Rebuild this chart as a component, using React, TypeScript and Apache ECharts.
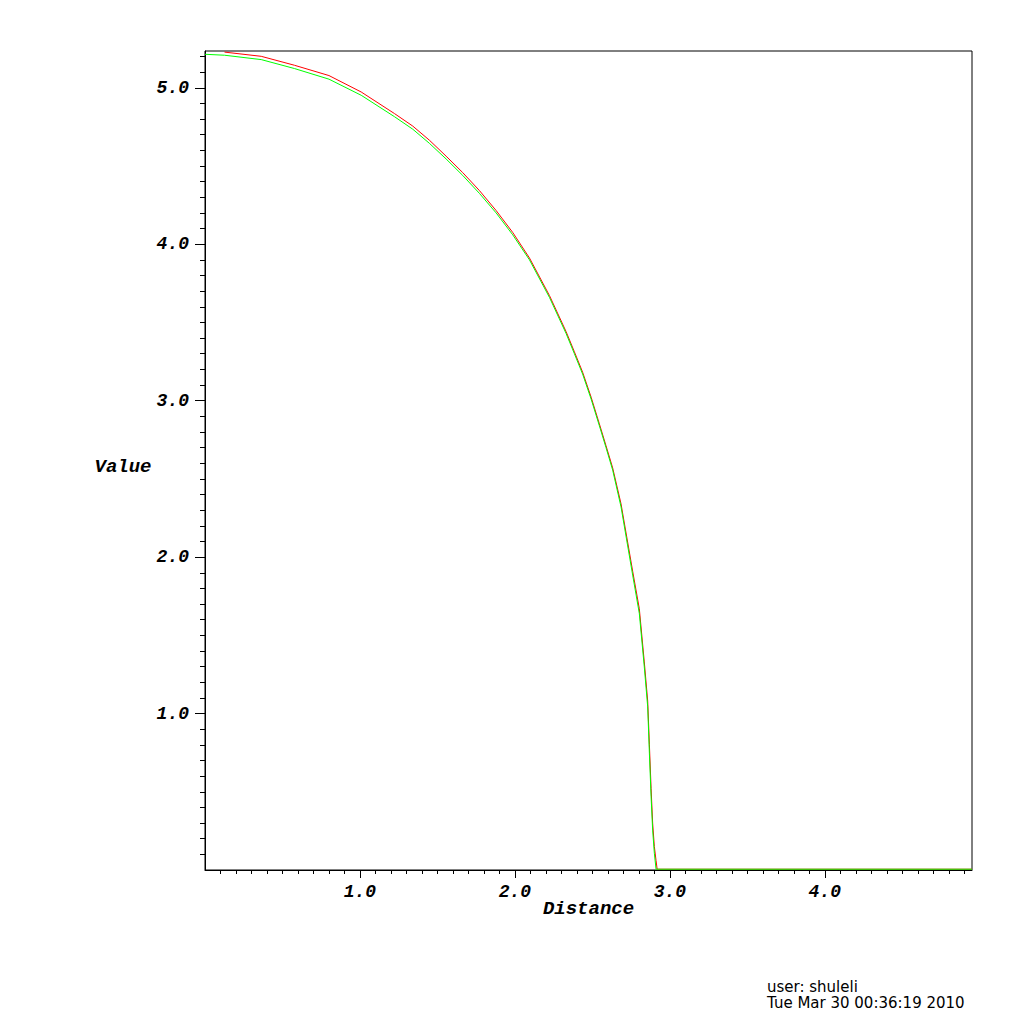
import React, { useEffect, useRef } from 'react';
import * as echarts from 'echarts';

// Tick positions (data units)
const xMajorTicks = [1, 2, 3, 4];
const yMajorTicks = [1, 2, 3, 4, 5];
const xMinorTicks: number[] = [];
for (let i = 1; i < 50; i++) if (i % 10 !== 0) xMinorTicks.push(i / 10);
const yMinorTicks: number[] = [];
for (let i = 1; i < 53; i++) if (i % 10 !== 0) yMinorTicks.push(i / 10);

const X_MIN = 0;
const X_MAX = 4.95;
const Y_MIN = 0;
const Y_MAX = 5.235;

// Red curve
const redX = [0.126, 0.363, 0.577, 0.8, 1.008, 1.223, 1.341, 1.448, 1.556, 1.663, 1.771, 1.879, 1.986, 2.094, 2.223, 2.33, 2.384, 2.437, 2.492, 2.545, 2.588, 2.631, 2.685, 2.76, 2.803, 2.835, 2.857, 2.868, 2.879, 2.889, 2.9, 2.911, 2.918, 4.95];
const redY = [5.228, 5.201, 5.144, 5.078, 4.973, 4.835, 4.755, 4.665, 4.563, 4.458, 4.343, 4.215, 4.075, 3.912, 3.672, 3.442, 3.312, 3.182, 3.022, 2.852, 2.712, 2.57, 2.34, 1.91, 1.67, 1.33, 1.08, 0.8, 0.52, 0.3, 0.15, 0.06, 0.005, 0.005];

// Green curve
const greenX = [0, 0.126, 0.363, 0.577, 0.8, 1.008, 1.223, 1.341, 1.448, 1.556, 1.663, 1.771, 1.879, 1.986, 2.094, 2.223, 2.33, 2.384, 2.437, 2.492, 2.545, 2.588, 2.631, 2.685, 2.76, 2.803, 2.835, 2.857, 2.868, 2.879, 2.889, 2.9, 2.911, 4.95];
const greenY = [5.214, 5.208, 5.18, 5.123, 5.055, 4.952, 4.815, 4.735, 4.645, 4.545, 4.44, 4.325, 4.2, 4.06, 3.9, 3.66, 3.43, 3.3, 3.17, 3.01, 2.84, 2.7, 2.556, 2.321, 1.885, 1.64, 1.299, 1.043, 0.745, 0.468, 0.255, 0.107, 0.005, 0.005];

const tickFont = {
  color: '#000',
  fontFamily: 'Liberation Mono',
  fontWeight: 'bold' as const,
  fontStyle: 'italic' as const,
  fontSize: 18,
};

export default function App() {
  const ref = useRef<HTMLDivElement>(null);
  useEffect(() => {
    if (!ref.current) return;
    const chart = echarts.init(ref.current, undefined, { renderer: 'svg' });
    const fmt = (v: number) => v.toFixed(1);
    chart.setOption({
      animation: false,
      backgroundColor: '#fff',
      grid: {
        left: 205,
        top: 51,
        width: 767,
        height: 819,
        show: true,
        borderColor: '#000',
        borderWidth: 1,
        backgroundColor: 'transparent',
      },
      xAxis: [
        {
          type: 'value',
          min: X_MIN,
          max: X_MAX,
          position: 'bottom',
          axisLine: { show: true, lineStyle: { color: '#000', width: 1 } },
          axisTick: { show: true, customValues: xMajorTicks, length: 8, lineStyle: { color: '#000', width: 1 } },
          axisLabel: { show: true, customValues: xMajorTicks, formatter: fmt, margin: 13, ...tickFont },
          splitLine: { show: false },
          name: 'Distance',
          nameLocation: 'middle',
          nameGap: 29,
          nameMoveOverlap: false,
          nameTextStyle: { ...tickFont, fontSize: 19 },
        },
        {
          type: 'value',
          min: X_MIN,
          max: X_MAX,
          position: 'bottom',
          axisLine: { show: false },
          axisTick: { show: true, customValues: xMinorTicks, length: 4, lineStyle: { color: '#000', width: 1 } },
          axisLabel: { show: false },
          splitLine: { show: false },
        },
      ],
      yAxis: [
        {
          type: 'value',
          min: Y_MIN,
          max: Y_MAX,
          position: 'left',
          axisLine: { show: true, lineStyle: { color: '#000', width: 1 } },
          axisTick: { show: true, customValues: yMajorTicks, length: 10, lineStyle: { color: '#000', width: 1 } },
          axisLabel: { show: true, customValues: yMajorTicks, formatter: fmt, margin: 16, ...tickFont },
          splitLine: { show: false },
          name: 'Value',
          nameLocation: 'middle',
          nameRotate: 0,
          nameGap: 82,
          nameMoveOverlap: false,
          nameTextStyle: { ...tickFont, fontSize: 19, align: 'center', verticalAlign: 'top', lineHeight: 12 },
        },
        {
          type: 'value',
          min: Y_MIN,
          max: Y_MAX,
          position: 'left',
          axisLine: { show: false },
          axisTick: { show: true, customValues: yMinorTicks, length: 5, lineStyle: { color: '#000', width: 1 } },
          axisLabel: { show: false },
          splitLine: { show: false },
        },
      ],
      graphic: [
        {
          type: 'text',
          left: 767,
          top: 979,
          style: {
            text: 'user: shuleli\nTue Mar 30 00:36:19 2010',
            font: '15px "DejaVu Sans"',
            fill: '#000',
            lineHeight: 16,
          },
        },
      ],
      series: [
        {
          type: 'line',
          xAxisIndex: 0,
          yAxisIndex: 0,
          data: redX.map((x, i) => [x, redY[i]]),
          showSymbol: false,
          lineStyle: { color: '#ff0000', width: 1 },
          itemStyle: { color: '#ff0000' },
        },
        {
          type: 'line',
          xAxisIndex: 0,
          yAxisIndex: 0,
          data: greenX.map((x, i) => [x, greenY[i]]),
          showSymbol: false,
          lineStyle: { color: '#00ff00', width: 1 },
          itemStyle: { color: '#00ff00' },
        },
      ],
    });
    return () => chart.dispose();
  }, []);
  return (
    <div
      ref={ref}
      style={{ position: 'fixed', left: 0, top: 0, width: 1024, height: 1024 }}
    />
  );
}
